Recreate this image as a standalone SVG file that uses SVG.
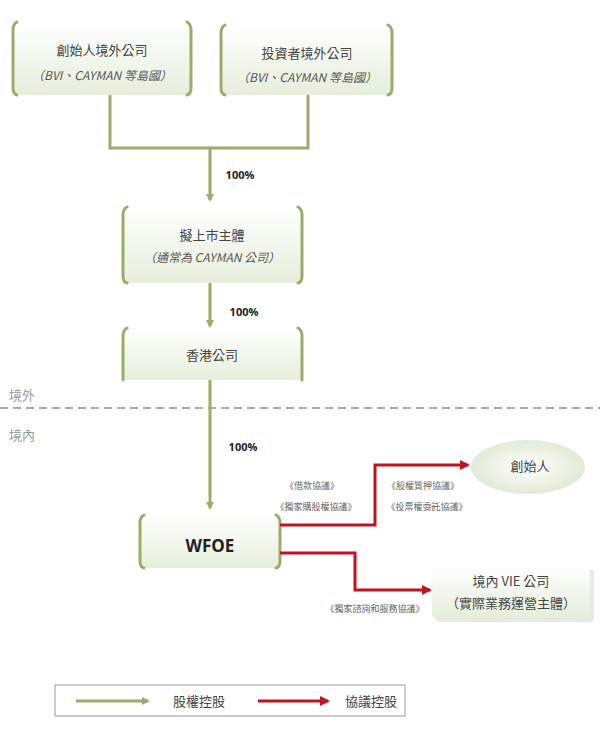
<svg xmlns="http://www.w3.org/2000/svg" width="600" height="750" viewBox="0 0 600 750">
<style>
text{font-family:"Noto Sans CJK TC","Noto Sans CJK SC",sans-serif;fill:#444;text-anchor:middle}
.t{font-size:13px}
.s{font-size:12px;font-style:italic;fill:#555}
.p{font-family:"Open Sans","Liberation Sans",sans-serif;font-weight:bold;font-size:11px;fill:#222}
.a{font-size:9px;fill:#666}
.br{fill:none;stroke:#9aab6a;stroke-width:3;stroke-linecap:round}
.g{fill:none;stroke:#9aab6a;stroke-width:3}
.r{fill:none;stroke:#c0141c;stroke-width:3}
</style>
<defs>
<linearGradient id="bg" x1="0" y1="0" x2="0" y2="1"><stop offset="0" stop-color="#ffffff"/><stop offset="1" stop-color="#e6eedb"/></linearGradient>
<radialGradient id="eg"><stop offset="0" stop-color="#ffffff"/><stop offset="1" stop-color="#e2ebd6"/></radialGradient>
<marker id="ga" markerWidth="8" markerHeight="8" refX="6" refY="4" orient="auto" markerUnits="userSpaceOnUse" viewBox="0 0 8 8"><path d="M0,0L8,4L0,8z" fill="#9aab6a"/></marker>
<marker id="ra" markerWidth="10" markerHeight="10" refX="8" refY="5" orient="auto" markerUnits="userSpaceOnUse" viewBox="0 0 10 10"><path d="M0,0L10,5L0,10z" fill="#c0141c"/></marker>
</defs>
<g id="n1"><rect x="13" y="22" width="178" height="73" fill="url(#bg)"/><path class="br" d="M17,22Q13,24 13,30V88Q13,94 17,95M187,22Q191,24 191,30V88Q191,94 187,95"/><text class="t" x="102" y="55">創始人境外公司</text><text class="s" x="102" y="80">（BVI、CAYMAN 等島國）</text></g>
<g id="n2"><rect x="221" y="25" width="171" height="70" fill="url(#bg)"/><path class="br" d="M225,25Q221,27 221,33V88Q221,94 225,95M388,25Q392,27 392,33V88Q392,94 388,95"/><text class="t" x="307" y="58">投資者境外公司</text><text class="s" x="307" y="82">（BVI、CAYMAN 等島國）</text></g>
<g id="n3"><rect x="123" y="207" width="179" height="76" fill="url(#bg)"/><path class="br" d="M127,207Q123,209 123,215V276Q123,282 127,283M298,207Q302,209 302,215V276Q302,282 298,283"/><text class="t" x="212" y="240">擬上市主體</text><text class="s" x="212" y="262">（通常為 CAYMAN 公司）</text></g>
<g id="n4"><rect x="123" y="328" width="179" height="52" fill="url(#bg)"/><path class="br" d="M127,328Q123,330 123,336V380M298,328Q302,330 302,336V380"/><text class="t" x="212" y="360">香港公司</text></g>
<g id="n5"><rect x="140" y="515" width="140" height="53" fill="url(#bg)"/><path class="br" d="M144,515Q140,517 140,523V561Q140,567 144,568M276,515Q280,517 280,523V561Q280,567 276,568"/><text x="210" y="552" style="font-family:'Open Sans','Liberation Sans',sans-serif;font-weight:bold;font-size:17px;fill:#222">WFOE</text></g>
<g id="n6"><ellipse cx="528" cy="467" rx="57" ry="27" fill="url(#eg)"/><text class="t" x="530" y="471">創始人</text></g>
<g id="n7"><rect x="436" y="569" width="158" height="53" rx="4" fill="#d8dccf" opacity="0.6"/><rect x="432" y="565" width="158" height="53" rx="4" fill="url(#bg)"/><text class="t" x="511" y="586">境內 VIE 公司</text><text class="t" x="511" y="608">（實際業務運營主體）</text></g>
<g id="zone"><line x1="0" y1="408" x2="600" y2="408" stroke="#aaa" stroke-width="2" stroke-dasharray="8,5"/><text x="22" y="400" style="font-size:13px;fill:#999">境外</text><text x="22" y="440" style="font-size:13px;fill:#999">境內</text></g>
<g id="connectors">
<path class="g" d="M110,95V148H308V95"/>
<path class="g" d="M210,148V200" marker-end="url(#ga)"/>
<path class="g" d="M210,283V326" marker-end="url(#ga)"/>
<path class="g" d="M210,380V508" marker-end="url(#ga)"/>
<path class="r" d="M280,525H375V465H468" marker-end="url(#ra)"/>
<path class="r" d="M280,553H355V590H430" marker-end="url(#ra)"/>
<text class="p" x="240" y="179">100%</text>
<text class="p" x="244" y="316">100%</text>
<text class="p" x="243" y="451">100%</text>
<text class="a" x="312" y="489">《借款協議》</text>
<text class="a" x="316" y="510">《獨家購股權協議》</text>
<text class="a" x="423" y="489">《股權質押協議》</text>
<text class="a" x="427" y="510">《投票權委託協議》</text>
<text class="a" x="375" y="612">《獨家諮詢和服務協議》</text>
</g>
<g id="legend"><rect x="55" y="685" width="350" height="31" fill="none" stroke="#999"/>
<path class="g" d="M76,701H148" marker-end="url(#ga)"/><text class="t" x="199" y="706">股權控股</text>
<path class="r" d="M258,701H328" marker-end="url(#ra)"/><text class="t" x="371" y="706">協議控股</text></g>
</svg>
